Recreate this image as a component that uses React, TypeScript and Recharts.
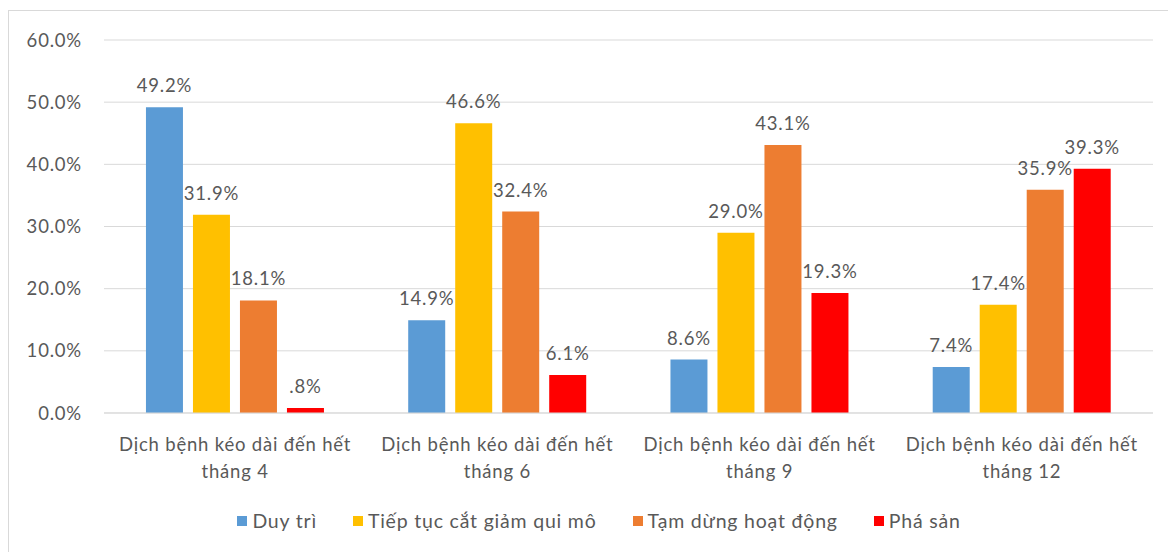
import React from 'react';
import {
  BarChart,
  Bar,
  XAxis,
  YAxis,
  CartesianGrid,
  LabelList,
} from 'recharts';

const categories = [
  'Dịch bệnh kéo dài đến hết tháng 4',
  'Dịch bệnh kéo dài đến hết tháng 6',
  'Dịch bệnh kéo dài đến hết tháng 9',
  'Dịch bệnh kéo dài đến hết tháng 12',
];

const duyTri = [49.2, 14.9, 8.6, 7.4];
const catGiam = [31.9, 46.6, 29.0, 17.4];
const tamDung = [18.1, 32.4, 43.1, 35.9];
const phaSan = [0.8, 6.1, 19.3, 39.3];

const yTicks = [0, 10, 20, 30, 40, 50, 60];

const series = [
  { key: 'duyTri', name: 'Duy trì', color: '#5B9BD5' },
  { key: 'catGiam', name: 'Tiếp tục cắt giảm qui mô', color: '#FFC000' },
  { key: 'tamDung', name: 'Tạm dừng hoạt động', color: '#ED7D31' },
  { key: 'phaSan', name: 'Phá sản', color: '#FF0000' },
];

const data = categories.map((c, i) => ({
  name: c,
  duyTri: duyTri[i],
  catGiam: catGiam[i],
  tamDung: tamDung[i],
  phaSan: phaSan[i],
}));

const FONT = 'Lato, "Open Sans", sans-serif';
const TEXT = '#595959';
const FS = 18.5;
const LS = 0.8;

const fmtLabel = (v: number) => {
  const s = v.toFixed(1);
  return (s.startsWith('0.') ? s.slice(1) : s) + '%';
};

function CategoryTick({ x, y, payload }: any) {
  const label: string = payload.value;
  const idx = label.indexOf('tháng');
  const first = label.slice(0, idx).trim();
  const second = label.slice(idx);
  return (
    <g transform={`translate(${x},${y})`}>
      <text textAnchor="middle" fill={TEXT} fontSize={FS} fontFamily={FONT} letterSpacing={LS}>
        <tspan x={0} dy={30}>{first}</tspan>
        <tspan x={0} dy={27}>{second}</tspan>
      </text>
    </g>
  );
}

// legend drawn by hand so it sits where Excel put it
function LegendBox() {
  return (
    <div
      style={{
        position: 'absolute',
        left: 0,
        top: 509,
        width: 1198,
        display: 'flex',
        justifyContent: 'center',
        gap: 36,
        fontFamily: FONT,
        fontSize: 19.5,
        letterSpacing: LS,
        color: TEXT,
        lineHeight: '24px',
      }}
    >
      {series.map((s) => (
        <div key={s.key} style={{ display: 'flex', alignItems: 'center' }}>
          <span
            style={{ width: 10, height: 10, background: s.color, marginRight: 5, display: 'inline-block' }}
          />
          {s.name}
        </div>
      ))}
    </div>
  );
}

export default function App() {
  return (
    <div style={{ position: 'fixed', left: 0, top: 0, width: 1168, height: 552, background: '#fff', overflow: 'hidden' }}>
      <div
        style={{
          position: 'absolute',
          left: 8,
          top: 10,
          width: 1170,
          height: 560,
          border: '1px solid #D9D9D9',
        }}
      />
      <BarChart
        width={1168}
        height={552}
        data={data}
        margin={{ top: 40, right: 15, left: 0, bottom: 69 }}
        barCategoryGap="16%"
        barGap={10}
      >
        <CartesianGrid vertical={false} stroke="#D9D9D9" />
        <XAxis
          dataKey="name"
          axisLine={{ stroke: '#D9D9D9' }}
          tickLine={false}
          height={70}
          interval={0}
          tick={<CategoryTick />}
        />
        <YAxis
          width={104}
          domain={[0, 60]}
          ticks={yTicks}
          axisLine={false}
          tickLine={false}
          tickMargin={16}
          tickFormatter={(v: number) => `${v.toFixed(1)}%`}
          tick={{ fill: TEXT, fontSize: FS, fontFamily: FONT, letterSpacing: LS }}
        />
        {series.map((s) => (
          <Bar key={s.key} dataKey={s.key} name={s.name} fill={s.color} isAnimationActive={false}>
            <LabelList
              dataKey={s.key}
              position="top"
              offset={15}
              formatter={(v: any) => fmtLabel(Number(v))}
              style={{ fill: TEXT, fontSize: FS, fontFamily: FONT, letterSpacing: LS }}
            />
          </Bar>
        ))}
      </BarChart>
      <LegendBox />
    </div>
  );
}
